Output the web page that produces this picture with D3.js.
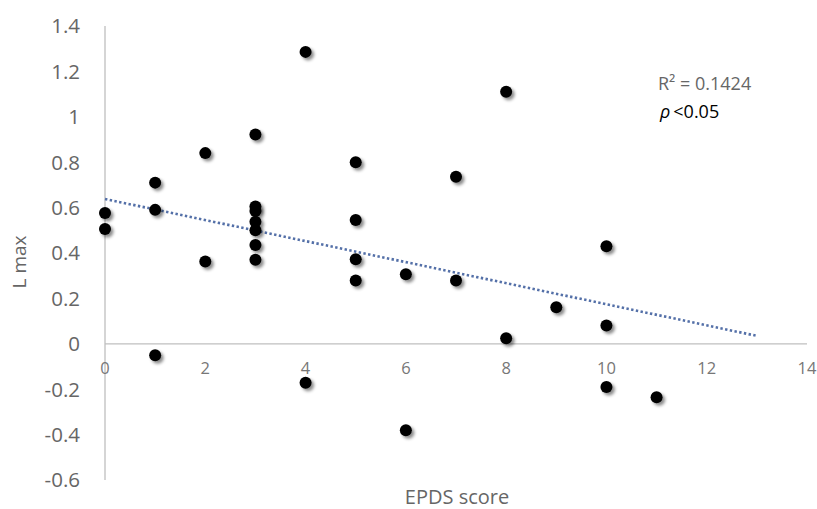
<!DOCTYPE html>
<html>
<head>
<meta charset="utf-8">
<script src="https://cdn.jsdelivr.net/npm/d3@7"></script>
<style>
  body { margin: 0; background: #fff; }
  text { font-family: "Open Sans", sans-serif; }
</style>
</head>
<body>
<div id="chart"></div>
<script>
// EPDS score (x) vs L max (y)
const epds = [0, 0, 1, 1, 1, 2, 2, 3, 3, 3, 3, 3, 3, 3, 4, 4, 5, 5, 5, 5, 6, 6, 7, 7, 8, 8, 9, 10, 10, 10, 11]
const lmax = [0.576, 0.506, 0.71, 0.59, -0.05, 0.84, 0.363, 0.922, 0.605, 0.585, 0.538, 0.50, 0.435, 0.37,
              1.286, -0.172, 0.80, 0.545, 0.372, 0.279, 0.306, -0.381, 0.736, 0.279, 1.11, 0.024, 0.161,
              0.43, 0.081, -0.19, -0.235]

// linear trend line ends (Excel style, drawn to x = 13)
const trendX = [0, 13]
const trendY = [0.638, 0.035]

const xTicks = [0, 2, 4, 6, 8, 10, 12, 14]
const yTicks = [-0.6, -0.4, -0.2, 0, 0.2, 0.4, 0.6, 0.8, 1, 1.2, 1.4]

var width = 817, height = 509

var x = d3.scaleLinear().domain([0, 14]).range([105, 807])
var y = d3.scaleLinear().domain([-0.6, 1.4]).range([480, 26])

var svg = d3.select("#chart").append("svg")
    .attr("width", width)
    .attr("height", height)

// soft shadow under the markers
var f = svg.append("defs").append("filter")
    .attr("id", "shadow")
    .attr("x", "-50%").attr("y", "-50%")
    .attr("width", "200%").attr("height", "200%")
f.append("feDropShadow")
    .attr("dx", 2.5).attr("dy", 2.5)
    .attr("stdDeviation", 1.8)
    .attr("flood-color", "#000")
    .attr("flood-opacity", 0.45)

// axis lines
svg.append("line")
    .attr("x1", x(0)).attr("x2", x(0))
    .attr("y1", y(1.4)).attr("y2", y(-0.6))
    .attr("stroke", "#bfbfbf").attr("stroke-width", 1.3)
svg.append("line")
    .attr("x1", x(0)).attr("x2", x(14))
    .attr("y1", y(0)).attr("y2", y(0))
    .attr("stroke", "#bfbfbf").attr("stroke-width", 1.3)

// y tick labels (plain hyphen for negatives, like the original)
svg.append("g").selectAll("text")
    .data(yTicks)
  .enter().append("text")
    .attr("x", 80)
    .attr("y", d => y(d))
    .attr("dy", "0.36em")
    .attr("text-anchor", "end")
    .attr("font-size", "20.5px")
    .attr("fill", "#666")
    .text(d => String(+d.toFixed(1)))

// x tick labels (sit under the zero line)
svg.append("g").selectAll("text")
    .data(xTicks)
  .enter().append("text")
    .attr("x", d => x(d))
    .attr("y", y(0) + 30)
    .attr("text-anchor", "middle")
    .attr("font-size", "16.5px")
    .attr("fill", "#777")
    .text(d => d)

// axis titles
svg.append("text")
    .attr("x", 457).attr("y", 504)
    .attr("text-anchor", "middle")
    .attr("font-size", "20px")
    .attr("fill", "#666")
    .text("EPDS score")

svg.append("text")
    .attr("transform", "translate(26,262) rotate(-90)")
    .attr("text-anchor", "middle")
    .attr("font-size", "19px")
    .attr("fill", "#666")
    .text("L max")

// trend line
svg.append("line")
    .attr("x1", x(trendX[0])).attr("y1", y(trendY[0]))
    .attr("x2", x(trendX[1])).attr("y2", y(trendY[1]))
    .attr("stroke", "#5470a8")
    .attr("stroke-width", 2.6)
    .attr("stroke-dasharray", "2.4,2.4")

// points
svg.append("g").selectAll("circle")
    .data(epds.map((d, i) => ({ x: d, y: lmax[i] })))
  .enter().append("circle")
    .attr("cx", d => x(d.x))
    .attr("cy", d => y(d.y))
    .attr("r", 6)
    .attr("fill", "#000")
    .attr("filter", "url(#shadow)")

// annotation
svg.append("text")
    .attr("x", 658).attr("y", 90)
    .attr("font-size", "18px")
    .attr("fill", "#666")
    .text("R² = 0.1424")

var p = svg.append("text")
    .attr("x", 660).attr("y", 118)
    .attr("font-size", "18px")
    .attr("fill", "#000")
p.append("tspan").attr("font-style", "italic").text("ρ")
p.append("tspan").attr("dx", 3).text("<0.05")
</script>
</body>
</html>
